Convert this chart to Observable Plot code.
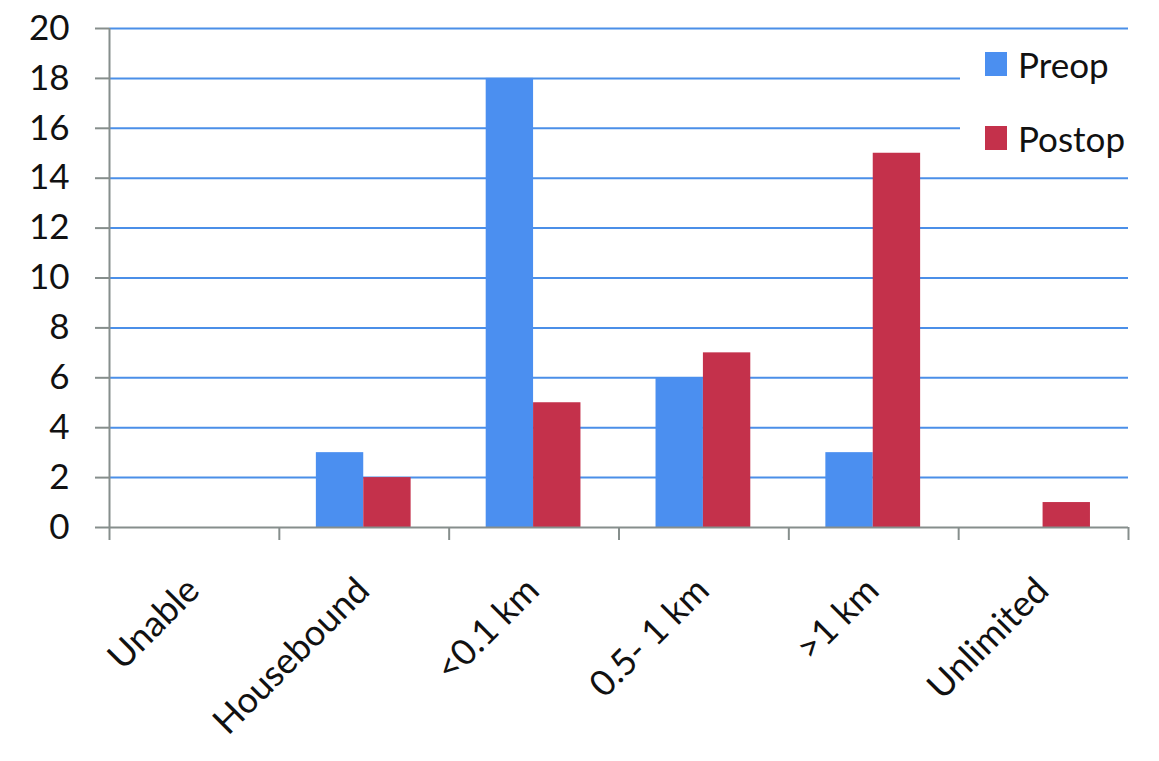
<!DOCTYPE html>
<html>
<head>
<meta charset="utf-8">
<script src="https://cdn.jsdelivr.net/npm/d3@7"></script>
<script src="https://cdn.jsdelivr.net/npm/@observablehq/plot@0.6"></script>
<style>
  html, body { margin: 0; padding: 0; background: #fff; }
  #wrap { position: relative; width: 1159px; height: 761px; font-family: Lato, "Open Sans", sans-serif; }
  #legend { position: absolute; left: 960px; top: 38px; width: 199px; height: 134px; background: #fff; }
  .item { position: absolute; left: 25px; height: 30px; display: flex; align-items: center; font-size: 35px; color: #111; }
  .sw { width: 22px; height: 24px; margin-right: 11px; }
</style>
</head>
<body>
<div id="wrap"></div>
<script>
const categories = ["Unable", "Housebound", "<0.1 km", "0.5- 1 km", ">1 km", "Unlimited"];
const series = ["Preop", "Postop"];
const preop = [0, 3, 18, 6, 3, 0];
const postop = [0, 2, 5, 7, 15, 1];
const yTicks = [0, 2, 4, 6, 8, 10, 12, 14, 16, 18, 20];
const colors = ["#4b8ff0", "#c4314b"];

const W = 1159, H = 761;
const mL = 109, mR = 31, mT = 28, mB = 234;
const bw = (W - mL - mR) / categories.length;

const rows = [];
categories.forEach((c, i) => {
  rows.push({cat: c, idx: i, series: "Preop", value: preop[i]});
  rows.push({cat: c, idx: i, series: "Postop", value: postop[i]});
});

const axisColor = "#868e8c";
const font = 35;

const chart = Plot.plot({
  width: W, height: H,
  marginLeft: mL, marginRight: mR, marginTop: mT, marginBottom: mB,
  style: {fontFamily: "Lato, 'Open Sans', sans-serif", background: "#fff", color: "#111"},
  x: {domain: [0, categories.length], axis: null},
  y: {domain: [0, 20], axis: null},
  color: {domain: series, range: colors},
  marks: [
    Plot.ruleY(yTicks.filter(d => d > 0), {stroke: "#4b8fe8", strokeWidth: 2}),
    Plot.rectY(rows.filter(d => d.series === "Preop"), {
      x1: "idx", x2: d => d.idx + 1, y: "value", fill: "series",
      insetLeft: 0.218 * bw, insetRight: 0.503 * bw
    }),
    Plot.rectY(rows.filter(d => d.series === "Postop"), {
      x1: "idx", x2: d => d.idx + 1, y: "value", fill: "series",
      insetLeft: 0.497 * bw, insetRight: 0.224 * bw
    }),
    Plot.axisY({ticks: yTicks, label: null, tickSize: 14, tickPadding: 26, stroke: axisColor, strokeWidth: 2, fontSize: font, tickFormat: d => String(d), color: "#111", strokeOpacity: 1}),
    Plot.axisX({ticks: d3.range(0, categories.length + 1), label: null, tickSize: 13, tickFormat: () => "", stroke: axisColor, strokeWidth: 2, strokeOpacity: 1}),
    Plot.ruleX([0], {stroke: axisColor, strokeWidth: 2}),
    Plot.ruleY([0], {stroke: axisColor, strokeWidth: 2}),
    Plot.text(categories, {
      x: (d, i) => i + 0.5, y: () => 0, text: d => d,
      rotate: -45, textAnchor: "end", dx: -1, dy: 57,
      fontSize: 36, fill: "#111"
    })
  ]
});

const wrap = document.getElementById("wrap");
wrap.appendChild(chart);

const legend = document.createElement("div");
legend.id = "legend";
series.forEach((s, i) => {
  const item = document.createElement("div");
  item.className = "item";
  item.style.top = (i === 0 ? 11 : 85) + "px";
  const sw = document.createElement("div");
  sw.className = "sw";
  sw.style.background = colors[i];
  const t = document.createElement("span");
  t.textContent = s;
  item.appendChild(sw);
  item.appendChild(t);
  legend.appendChild(item);
});
wrap.appendChild(legend);
</script>
</body>
</html>
